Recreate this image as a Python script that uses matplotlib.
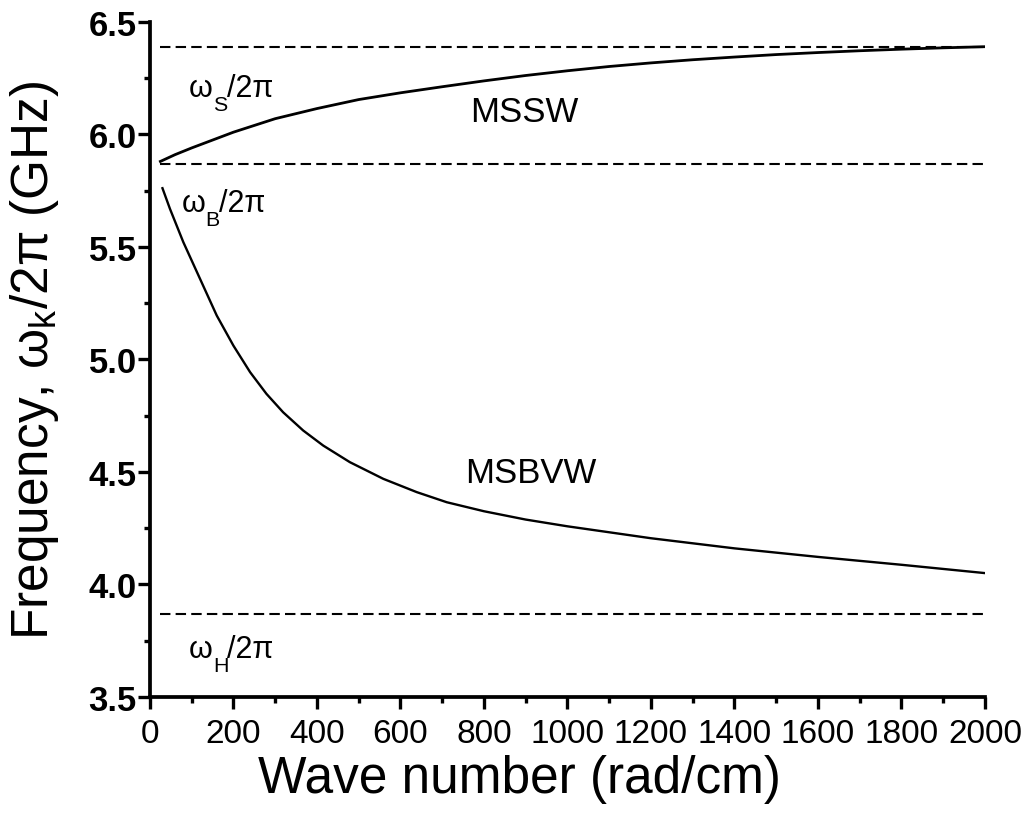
import matplotlib
matplotlib.use('Agg')
import matplotlib.pyplot as plt
from matplotlib.ticker import MultipleLocator, FormatStrFormatter
from matplotlib.textpath import TextPath
from matplotlib.font_manager import FontProperties

plt.rcParams['font.family'] = ['Liberation Sans', 'DejaVu Sans']
plt.rcParams['mathtext.fontset'] = 'custom'
plt.rcParams['mathtext.rm'] = 'Liberation Sans'
plt.rcParams['mathtext.it'] = 'Liberation Sans:italic'

# wave number (rad/cm) and frequency (GHz)
k_mssw = [25, 60, 100, 150, 200, 250, 300, 400, 500, 600, 700, 800, 900, 1000,
          1100, 1200, 1300, 1400, 1500, 1600, 1700, 1800, 1900, 2000]
f_mssw = [5.88, 5.91, 5.94, 5.975, 6.01, 6.04, 6.07, 6.115, 6.155, 6.185, 6.212, 6.238,
          6.262, 6.283, 6.302, 6.318, 6.332, 6.344, 6.355, 6.364, 6.372, 6.379, 6.385, 6.39]

k_msbvw = [30, 48, 80, 120, 160, 200, 240, 279, 319, 367, 415, 479, 559, 639, 711,
           800, 900, 1000, 1200, 1400, 1600, 1800, 2000]
f_msbvw = [5.761, 5.669, 5.521, 5.358, 5.195, 5.061, 4.943, 4.847, 4.765, 4.684, 4.617,
           4.543, 4.469, 4.41, 4.365, 4.325, 4.288, 4.258, 4.205, 4.16, 4.122, 4.087, 4.05]

f_s = 6.39
f_b = 5.87
f_h = 3.87
k_span = [25, 2000]

fig = plt.figure(figsize=(10.27, 8.2), dpi=100)
ax = fig.add_axes([0.146, 0.149, 0.813, 0.823])

ax.plot(k_mssw, f_mssw, color='black', lw=2.0)
ax.plot(k_msbvw, f_msbvw, color='black', lw=1.7)
for f in [f_s, f_b, f_h]:
    ax.plot(k_span, [f, f], color='black', lw=1.5, dashes=(5, 2.5))

fp = FontProperties(family='Liberation Sans')


def ink_width(s, size):
    return TextPath((0, 0), s, size=size, prop=fp).get_extents().x1


def omega_label(x, y, sub, size=22):
    # omega, a subscript dropped below the baseline, then "/2pi"
    sub_size = 0.7 * size
    w1 = ink_width('ω', size) + 1.0
    w2 = ink_width(sub, sub_size) + 0.5
    ax.text(x, y, 'ω', fontsize=size)
    ax.annotate(sub, (x, y), xytext=(w1, -0.45 * size),
                textcoords='offset points', fontsize=sub_size)
    ax.annotate('/2π', (x, y), xytext=(w1 + w2, 0),
                textcoords='offset points', fontsize=size)


omega_label(93, 6.171, 'S')
omega_label(76, 5.66, 'B')
omega_label(93, 3.678, 'H')
ax.text(766, 6.06, 'MSSW', fontsize=25)
ax.text(754, 4.456, 'MSBVW', fontsize=25)

ax.set_xlim(0, 2000)
ax.set_ylim(3.5, 6.5)
ax.xaxis.set_major_locator(MultipleLocator(200))
ax.xaxis.set_minor_locator(MultipleLocator(100))
ax.yaxis.set_major_locator(MultipleLocator(0.5))
ax.yaxis.set_minor_locator(MultipleLocator(0.25))
ax.yaxis.set_major_formatter(FormatStrFormatter('%.1f'))

ax.spines['top'].set_visible(False)
ax.spines['right'].set_visible(False)
for s in ['left', 'bottom']:
    ax.spines[s].set_linewidth(2.7)
ax.tick_params(which='major', direction='out', length=8.5, width=2.4)
ax.tick_params(which='minor', direction='out', length=4.5, width=2.4)
ax.tick_params(axis='x', labelsize=24, pad=7)
ax.tick_params(axis='y', labelsize=25, pad=1)
for lab in ax.get_yticklabels():
    lab.set_fontweight('bold')

ax.set_xlabel('Wave number (rad/cm)', fontsize=37)
ax.set_ylabel('Frequency, ω$_{\\mathregular{k}}$/2π (GHz)', fontsize=37)
ax.xaxis.set_label_coords(0.442, -0.085)
ax.yaxis.set_label_coords(-0.107, 0.5)

fig.savefig('out.png', dpi=100)
